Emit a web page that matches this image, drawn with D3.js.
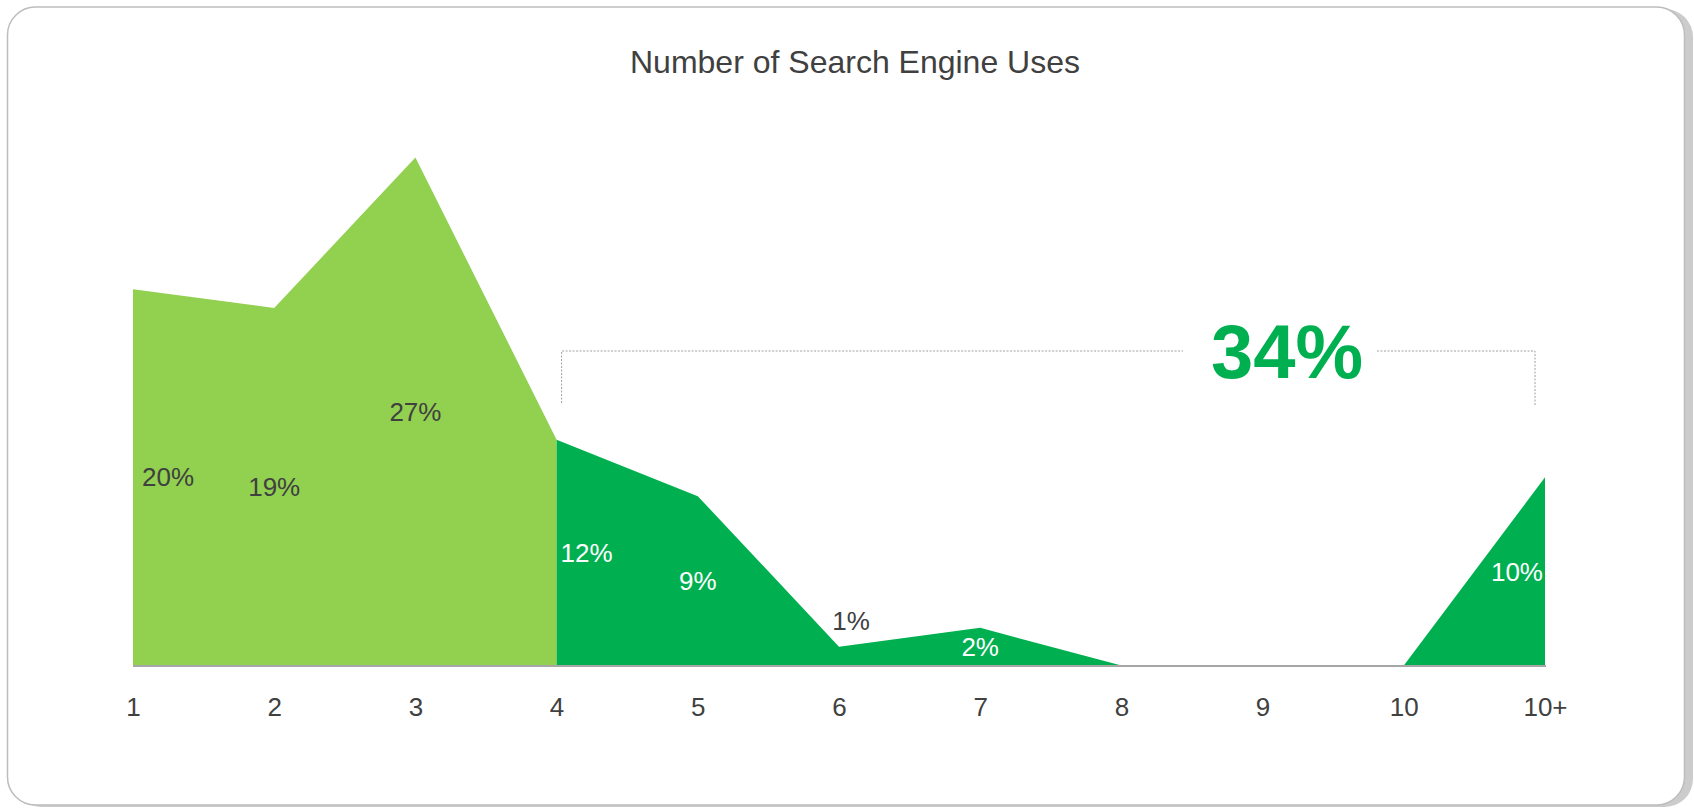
<!DOCTYPE html>
<html>
<head>
<meta charset="utf-8">
<script src="https://cdn.jsdelivr.net/npm/d3@7"></script>
<style>
  html, body { margin: 0; padding: 0; background: #fff; }
  svg { display: block; font-family: "Liberation Sans", Arial, sans-serif; }
</style>
</head>
<body>
<svg id="chart"></svg>
<script>
// chart data
const title = 'Number of Search Engine Uses';
const categories = ['1', '2', '3', '4', '5', '6', '7', '8', '9', '10', '10+'];
const values = [20, 19, 27, 12, 9, 1, 2, 0, 0, 0, 10];
const highlightFrom = '4';          // bracketed group starts here
const labelAbove = ['6'];           // labels drawn above the point
const hiddenLabels = ['8', '9', '10'];

const width = 1694;
const height = 808;

const svg = d3.select('#chart')
  .attr('width', width)
  .attr('height', height);

// card with shadow
svg.append('rect')
  .attr('x', 13).attr('y', 9)
  .attr('width', 1680).attr('height', 798)
  .attr('rx', 28)
  .attr('fill', '#cccccc');
svg.append('rect')
  .attr('x', 7.5).attr('y', 7)
  .attr('width', 1677).attr('height', 798)
  .attr('rx', 28)
  .attr('fill', '#fff')
  .attr('stroke', '#bdbdbd')
  .attr('stroke-width', 1.5);

svg.append('text')
  .attr('x', 855)
  .attr('y', 73)
  .attr('text-anchor', 'middle')
  .attr('font-size', 32)
  .attr('fill', '#404040')
  .text(title);

const x = d3.scalePoint()
  .domain(categories)
  .range([133, 1545]);

const y = d3.scaleLinear()
  .domain([0, 27])
  .range([665.5, 157.5]);

const data = categories.map((c, i) => ({cat: c, value: values[i], idx: i}));
const splitIdx = categories.indexOf(highlightFrom);

const area = d3.area()
  .x(d => x(d.cat))
  .y0(y(0))
  .y1(d => y(d.value));

// light part (before the bracket) and dark part
svg.append('path')
  .datum(data.slice(0, splitIdx + 1))
  .attr('d', area)
  .attr('fill', '#92d050');
svg.append('path')
  .datum(data.slice(splitIdx))
  .attr('d', area)
  .attr('fill', '#00b050');

// baseline
svg.append('line')
  .attr('x1', x(categories[0]))
  .attr('x2', x(categories[categories.length - 1]) + 1)
  .attr('y1', y(0) + 0.5)
  .attr('y2', y(0) + 0.5)
  .attr('stroke', '#a6a6a6')
  .attr('stroke-width', 2);

// x axis labels
const xAxis = svg.append('g')
  .attr('transform', 'translate(0,' + (y(0) + 32) + ')')
  .call(d3.axisBottom(x).tickSize(0).tickPadding(0));
xAxis.select('.domain').remove();
xAxis.selectAll('text')
  .attr('font-size', 26)
  .attr('font-family', '"Liberation Sans", Arial, sans-serif')
  .attr('fill', '#404040');

// data labels
const last = categories.length - 1;
svg.append('g')
  .selectAll('text')
  .data(data.filter(d => !hiddenLabels.includes(d.cat)))
  .enter()
  .append('text')
  .attr('x', d => {
    if (d.idx === 0) return x(d.cat) + 9;
    if (d.idx === splitIdx) return x(d.cat) + 4;
    if (d.idx === last) return x(d.cat) - 2;
    if (labelAbove.includes(d.cat)) return x(d.cat) + 12;
    return x(d.cat);
  })
  .attr('y', d => labelAbove.includes(d.cat) ? y(d.value) - 26 : y(d.value / 2))
  .attr('dy', '0.35em')
  .attr('text-anchor', d => {
    if (d.idx === 0 || d.idx === splitIdx) return 'start';
    if (d.idx === last) return 'end';
    return 'middle';
  })
  .attr('font-size', 26)
  .attr('fill', d => (d.idx >= splitIdx && !labelAbove.includes(d.cat)) ? '#ffffff' : '#404040')
  .text(d => d.value + '%');

// bracket over the highlighted group
const total = d3.sum(values.slice(splitIdx));
const bx0 = x(highlightFrom) + 5;
const bx1 = x(categories[last]) - 10;
const by = 351;
const gapL = 1183, gapR = 1377;
const bracket = svg.append('g')
  .attr('stroke', '#a0a0a0')
  .attr('stroke-width', 1)
  .attr('stroke-dasharray', '2,1.5')
  .attr('fill', 'none');
bracket.append('path')
  .attr('d', `M${bx0},${by + 52}V${by}H${gapL}`);
bracket.append('path')
  .attr('d', `M${gapR},${by}H${bx1}V${by + 54}`);

svg.append('text')
  .attr('x', (gapL + gapR) / 2 + 7)
  .attr('y', 378)
  .attr('text-anchor', 'middle')
  .attr('font-size', 76)
  .attr('font-weight', 'bold')
  .attr('fill', '#00b050')
  .text(total + '%');
</script>
</body>
</html>
